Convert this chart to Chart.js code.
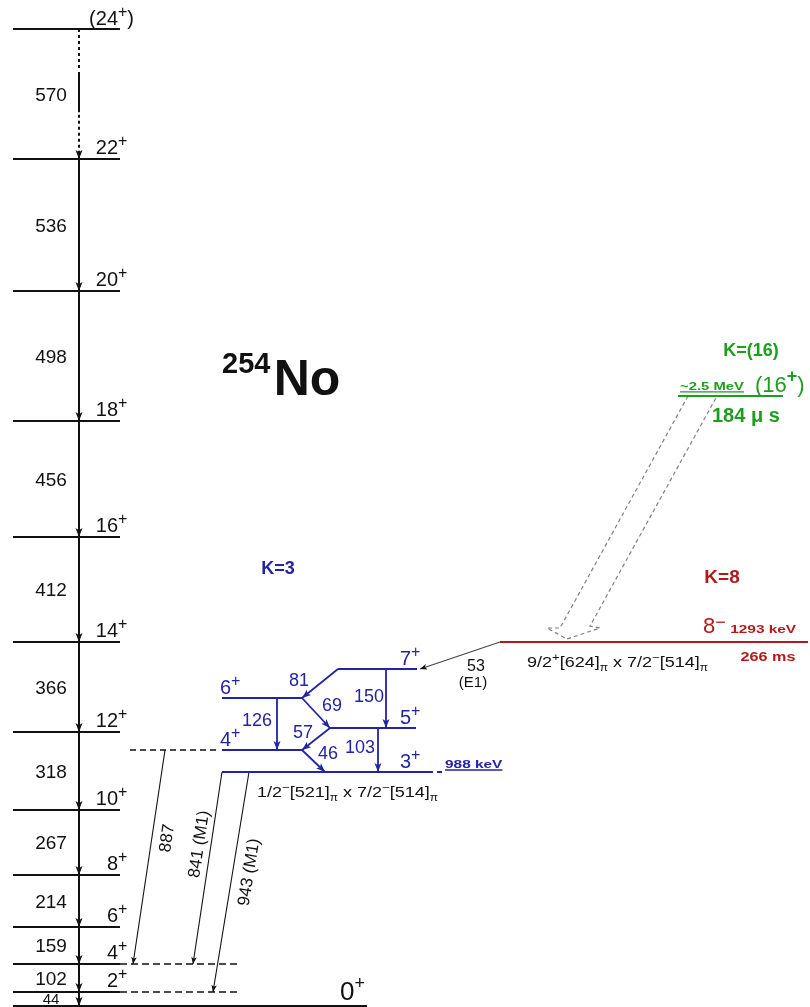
<!DOCTYPE html>
<html>
<head>
<meta charset="utf-8">
<script src="https://cdn.jsdelivr.net/npm/chart.js@4.4.0/dist/chart.umd.min.js"></script>
<style>
  html, body { margin: 0; padding: 0; background: #fff; }
  canvas { display: block; }
</style>
</head>
<body>
<canvas id="scheme" width="810" height="1007"></canvas>
<script>
// 254No level scheme. Heights are diagram units (not to energy scale), x is horizontal diagram units.

// ground-state band
const gsbSpins = ["0", "2", "4", "6", "8", "10", "12", "14", "16", "18", "20", "22", "24"];
const gsbLevels = [1, 15, 43, 80, 132, 197, 275, 365, 470, 586, 716, 848, 978];
const gsbGammas = ["44", "102", "159", "214", "267", "318", "366", "412", "456", "498", "536", "570"];

// K=3 band (3+ head at 988 keV)
const k3Spins = ["3", "4", "5", "6", "7"];
const k3Levels = [235, 257, 279, 309, 338];
const k3Gammas = ["126", "150", "103", "81", "69", "57", "46"];
const k3From = [3, 4, 2, 4, 3, 2, 1];
const k3To = [1, 2, 0, 3, 2, 1, 0];

// isomers
const k8Level = 365;
const k16Level = 611;

// inter-band transitions
const linkGammas = ["53", "887", "841 (M1)", "943 (M1)"];
const linkFrom = [k8Level, k3Levels[1], k3Levels[0], k3Levels[0]];
const linkTo = [k3Levels[4], gsbLevels[2], gsbLevels[2], gsbLevels[1]];

// ---- layout ----
const BLACK = "#111";
const BLUE = "#2323a6";
const RED = "#b21a1a";
const GREEN = "#1e9e1e";
const GREY = "#808080";
const FONT = "'Liberation Sans', Arial, sans-serif";

const gsbX = [13, 120];
const gsbArrowX = 79;
const k3LevelX = [[222, 433], [222, 302], [330, 416], [222, 302], [338, 417]];
const k3SpinX = [400, 220, 400, 220, 400];
const k3GammaX = [[277, 277], [386, 386], [378, 378], [338, 302], [302, 330], [330, 302], [302, 325]];
const k3LabelAt = [[257, 287], [369, 311], [360, 260], [299, 327], [332, 302], [303, 275], [328, 254]];
const linkX = [[500, 420], [165, 133], [222, 193], [249, 213]];
const linkLabelAt = [[476, 342], [166, 169], [198, 163], [248, 135]];

function seg(pts, color, width, dash) {
  return {
    data: pts.map(p => ({ x: p[0], y: p[1] })),
    showLine: true,
    borderColor: color,
    borderWidth: width,
    borderDash: dash || [],
    pointRadius: 0,
    pointHoverRadius: 0,
    fill: false,
    tension: 0
  };
}

const datasets = [];
const arrows = [];
const labels = [];

// ground band levels
gsbLevels.forEach((y, i) => {
  const right = i === 0 ? 367 : gsbX[1];
  datasets.push(seg([[gsbX[0], y], [right, y]], BLACK, 2));
  if (i > 0 && i < 12) {
    labels.push({ x: gsbX[1] - 2, y: y + 5, align: "split", color: BLACK,
      parts: [[gsbSpins[i], 20], ["+", 16, 8]] });
  }
});
labels.push({ x: gsbX[1] - 2, y: gsbLevels[12] + 4, align: "split", color: BLACK,
  parts: [["(24", 20], ["+", 16, 8], [")", 20]] });
labels.push({ x: 340, y: gsbLevels[0] + 6, align: "left", color: BLACK,
  parts: [["0", 26], ["+", 18, 11]] });

// ground band transitions
datasets.push(seg([[gsbArrowX, gsbLevels[0] - 2], [gsbArrowX, gsbLevels[11]]], BLACK, 2));
const topLvl = gsbLevels[12], nextLvl = gsbLevels[11], gap = topLvl - nextLvl;
datasets.push(seg([[gsbArrowX, topLvl], [gsbArrowX, topLvl - gap * 0.32]], BLACK, 2, [3, 3]));
datasets.push(seg([[gsbArrowX, topLvl - gap * 0.33], [gsbArrowX, topLvl - gap * 0.64]], BLACK, 2));
datasets.push(seg([[gsbArrowX, topLvl - gap * 0.66], [gsbArrowX, nextLvl]], BLACK, 2, [3, 3]));
gsbGammas.forEach((g, i) => {
  arrows.push({ x0: gsbArrowX, y0: gsbLevels[i + 1], x1: gsbArrowX, y1: gsbLevels[i], color: BLACK, len: 9, wid: 3.5 });
  labels.push({ x: 51, y: (gsbLevels[i] + gsbLevels[i + 1]) / 2, align: "center", middle: true, color: BLACK,
    parts: [[g, i === 0 ? 15 : 19]] });
});

// dashed feeding lines into the ground band
datasets.push(seg([[gsbX[1], gsbLevels[2]], [237, gsbLevels[2]]], BLACK, 1.5, [7, 4]));
datasets.push(seg([[gsbX[1], gsbLevels[1]], [237, gsbLevels[1]]], BLACK, 1.5, [7, 4]));
datasets.push(seg([[130, k3Levels[1]], [220, k3Levels[1]]], BLACK, 1.5, [6, 4]));

// K=3 band
k3Levels.forEach((y, i) => {
  datasets.push(seg([[k3LevelX[i][0], y], [k3LevelX[i][1], y]], BLUE, 2));
  labels.push({ x: k3SpinX[i], y: y + 4, align: "left", color: BLUE,
    parts: [[k3Spins[i], 20], ["+", 16, 8]] });
});
datasets.push(seg([[437, k3Levels[0]], [442, k3Levels[0]]], BLUE, 2));
labels.push({ x: 445, y: k3Levels[0] + 4, align: "left", color: BLUE, sx: 1.4, underline: true,
  parts: [["988 keV", 11, 0, true]] });
k3Gammas.forEach((g, i) => {
  const y0 = k3Levels[k3From[i]], y1 = k3Levels[k3To[i]];
  const [x0, x1] = k3GammaX[i];
  datasets.push(seg([[x0, y0], [x1, y1]], BLUE, 1.8));
  arrows.push({ x0, y0, x1, y1, color: BLUE, len: 9, wid: 3.5 });
  labels.push({ x: k3LabelAt[i][0], y: k3LabelAt[i][1], align: "center", middle: true, color: BLUE,
    parts: [[g, 18]] });
});
labels.push({ x: 257, y: 215, align: "left", middle: true, color: BLACK, sx: 1.2,
  parts: [["1/2", 15], ["\u2212", 11, 6], ["[521]", 15], ["\u03c0", 10, -4], [" x 7/2", 15], ["\u2212", 11, 6], ["[514]", 15], ["\u03c0", 10, -4]] });
labels.push({ x: 278, y: 439, align: "center", middle: true, color: BLUE, parts: [["K=3", 18, 0, true]] });

// K=8 isomer
datasets.push(seg([[500, k8Level], [808, k8Level]], RED, 2));
labels.push({ x: 722, y: 431, align: "center", middle: true, color: RED, parts: [["K=8", 19, 0, true]] });
labels.push({ x: 703, y: k8Level + 9, align: "left", color: RED,
  parts: [["8", 22], ["\u2212", 18, 5], ["  ", 8], ["1293 keV", 11, 0, true]], sxFrom: 3, sx: 1.4 });
labels.push({ x: 768, y: 350, align: "center", middle: true, color: RED, sx: 1.35, parts: [["266 ms", 12, 0, true]] });
labels.push({ x: 527, y: 345, align: "left", middle: true, color: BLACK, sx: 1.2,
  parts: [["9/2", 15], ["+", 11, 6], ["[624]", 15], ["\u03c0", 10, -4], [" x 7/2", 15], ["\u2212", 11, 6], ["[514]", 15], ["\u03c0", 10, -4]] });

// K=16 isomer
datasets.push(seg([[678, k16Level], [783, k16Level]], GREEN, 2));
labels.push({ x: 751, y: 657, align: "center", middle: true, color: GREEN, parts: [["K=(16)", 18, 0, true]] });
labels.push({ x: 680, y: 621, align: "left", middle: true, color: GREEN, sx: 1.35, underline: true,
  parts: [["~2.5 MeV", 11, 0, true]] });
labels.push({ x: 755, y: 615, align: "left", color: GREEN,
  parts: [["(16", 22], ["+", 18, 10, true], [")", 22]] });
labels.push({ x: 712, y: 592, align: "left", middle: true, color: GREEN,
  parts: [["184 \u03bc s", 20, 0, true]] });

// hollow dashed arrow K=16 -> K=8
datasets.push(seg([[688, k16Level], [560, 379], [547, 379], [567, k8Level + 3], [600, 379], [590, 381], [717, k16Level]], GREY, 1.2, [4, 3]));

// inter-band links
linkGammas.forEach((g, i) => {
  const [x0, x1] = linkX[i];
  const y0 = linkFrom[i], y1 = linkTo[i];
  datasets.push(seg([[x0, y0], [x1, y1]], i === 0 ? "#444" : BLACK, 1.1));
  arrows.push({ x0, y0, x1, y1, color: BLACK, len: 7, wid: 2.8 });
  if (i === 0) {
    labels.push({ x: linkLabelAt[i][0], y: linkLabelAt[i][1], align: "center", middle: true, color: BLACK, parts: [[g, 16]] });
    labels.push({ x: 473, y: 325, align: "center", middle: true, color: BLACK, parts: [["(E1)", 15]] });
  } else {
    labels.push({ x: linkLabelAt[i][0], y: linkLabelAt[i][1], align: "center", middle: true, color: BLACK,
      parts: [[g, 17]], along: [x0, y0, x1, y1] });
  }
});

// nucleus title
labels.push({ x: 222, y: 612, align: "left", color: BLACK,
  parts: [["254", 29, 22, true], [" ", 12], ["No", 50, 0, true]] });

function partFont(p) {
  return (p[3] ? "bold " : "") + p[1] + "px " + FONT;
}

function drawLabel(ctx, x, y, l, xs, ys) {
  ctx.save();
  ctx.fillStyle = l.color;
  ctx.strokeStyle = l.color;
  ctx.textBaseline = "alphabetic";
  ctx.textAlign = "left";
  const sx = l.sx || 1;
  const widths = l.parts.map((p, k) => {
    ctx.font = partFont(p);
    const s = (l.sxFrom === undefined || k >= l.sxFrom) ? sx : 1;
    return ctx.measureText(p[0]).width * s;
  });
  const total = widths.reduce((a, b) => a + b, 0);
  ctx.translate(x, y);
  if (l.along) {
    const px0 = xs.getPixelForValue(l.along[0]), py0 = ys.getPixelForValue(l.along[1]);
    const px1 = xs.getPixelForValue(l.along[2]), py1 = ys.getPixelForValue(l.along[3]);
    ctx.rotate(Math.atan2(py0 - py1, px0 - px1));
  }
  let start = 0;
  if (l.align === "center") start = -total / 2;
  else if (l.align === "right") start = -total;
  else if (l.align === "split") start = -widths[0];
  const base = l.middle ? 0.36 * l.parts[0][1] : 0;
  let cx = start;
  l.parts.forEach((p, k) => {
    ctx.font = partFont(p);
    const s = (l.sxFrom === undefined || k >= l.sxFrom) ? sx : 1;
    ctx.save();
    ctx.translate(cx, base - (p[2] || 0));
    ctx.scale(s, 1);
    ctx.fillText(p[0], 0, 0);
    ctx.restore();
    cx += widths[k];
  });
  if (l.underline) {
    ctx.lineWidth = 1.3;
    ctx.beginPath();
    ctx.moveTo(start, base + 2);
    ctx.lineTo(start + total, base + 2);
    ctx.stroke();
  }
  ctx.restore();
}

function drawHead(ctx, x0, y0, x1, y1, color, len, wid) {
  const a = Math.atan2(y1 - y0, x1 - x0);
  ctx.save();
  ctx.fillStyle = color;
  ctx.translate(x1, y1);
  ctx.rotate(a);
  ctx.beginPath();
  ctx.moveTo(0, 0);
  ctx.lineTo(-len, wid);
  ctx.lineTo(-len * 0.75, 0);
  ctx.lineTo(-len, -wid);
  ctx.closePath();
  ctx.fill();
  ctx.restore();
}

const decorations = {
  id: "decorations",
  afterDatasetsDraw(chart) {
    const ctx = chart.ctx;
    const xs = chart.scales.x;
    const ys = chart.scales.y;
    arrows.forEach(a => drawHead(ctx,
      xs.getPixelForValue(a.x0), ys.getPixelForValue(a.y0),
      xs.getPixelForValue(a.x1), ys.getPixelForValue(a.y1),
      a.color, a.len, a.wid));
    labels.forEach(l => drawLabel(ctx, xs.getPixelForValue(l.x), ys.getPixelForValue(l.y), l, xs, ys));
  }
};

new Chart(document.getElementById("scheme"), {
  type: "scatter",
  data: { datasets },
  options: {
    responsive: false,
    animation: false,
    layout: { padding: 0 },
    plugins: { legend: { display: false }, tooltip: { enabled: false } },
    scales: {
      x: { type: "linear", min: 0, max: 810, display: false },
      y: { type: "linear", min: 0, max: 1007, display: false }
    }
  },
  plugins: [decorations]
});
</script>
</body>
</html>
